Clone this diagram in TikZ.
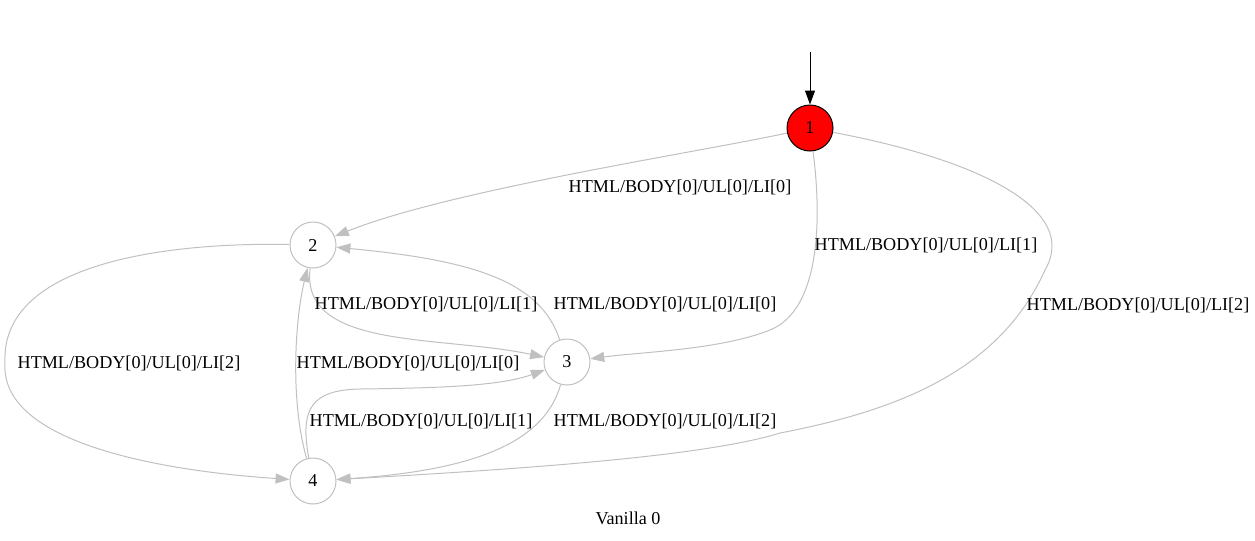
\documentclass[tikz,border=0pt]{standalone}
\usepackage{fontspec}
\setmainfont{Liberation Serif}
\usepackage{tikz}
\usepackage{xcolor}
\usetikzlibrary{arrows.meta}
\definecolor{edgegray}{HTML}{C0C0C0}
\tikzstyle{statenode} = [circle,draw=edgegray,line width=0.75pt,
  minimum size=34.5pt,inner sep=0pt]
\tikzstyle{startnode} = [statenode,draw=black,fill=red]
\tikzstyle{trans} = [draw=edgegray,line width=0.75pt,
  -{Triangle[length=10.5pt,width=7.5pt]}]
\tikzstyle{translabel} = [anchor=base,inner sep=0pt]

\begin{document}
\begin{tikzpicture}[x=0.75pt,y=-0.75pt,font=\fontsize{13.6}{16}\selectfont]
    \useasboundingbox (0,0) rectangle (1255,540);
    % states
    \node [startnode] (n1) at (810,128) {1};
    \node [statenode] (n2) at (313,245) {2};
    \node [statenode] (n3) at (567,362) {3};
    \node [statenode] (n4) at (313,481) {4};
    \coordinate (init) at (810,52);
    \draw [line width=0.75pt,-{Triangle[length=10.5pt,width=7.5pt]}] (init) -- (n1);
    % transitions
    \draw [trans] (n1) .. controls (700,152) and (450,190) .. (n2);
    \draw [trans] (n1) .. controls (822,220) and (820,310) .. (770,330)
      .. controls (720,350) and (640,352) .. (n3);
    \draw [trans] (n1) .. controls (980,160) and (1080,210) .. (1045,270)
      .. controls (1000,370) and (900,410) .. (780,433)
      .. controls (700,458) and (500,470) .. (n4);
    \draw [trans] (n2) .. controls (170,242) and (0,262) .. (5,363)
      .. controls (0,440) and (150,470) .. (n4);
    \draw [trans] (n2) .. controls (300,350) and (440,335) .. (n3);
    \draw [trans] (n3) .. controls (540,280) and (470,260) .. (n2);
    \draw [trans] (n3) .. controls (545,440) and (480,470) .. (n4);
    \draw [trans] (n4) .. controls (290,400) and (295,320) .. (n2);
    \draw [trans] (n4) .. controls (300,410) and (310,390) .. (360,389)
      .. controls (440,388) and (500,386) .. (n3);
    % labels
    \node [translabel] (l12) at (680,192) {HTML/BODY[0]/UL[0]/LI[0]};
    \node [translabel] (l13) at (926,250) {HTML/BODY[0]/UL[0]/LI[1]};
    \node [translabel] (l14) at (1138,310) {HTML/BODY[0]/UL[0]/LI[2]};
    \node [translabel] (l24) at (129,368) {HTML/BODY[0]/UL[0]/LI[2]};
    \node [translabel] (l23) at (426,309) {HTML/BODY[0]/UL[0]/LI[1]};
    \node [translabel] (l32) at (665,309) {HTML/BODY[0]/UL[0]/LI[0]};
    \node [translabel] (l42) at (408,368) {HTML/BODY[0]/UL[0]/LI[0]};
    \node [translabel] (l43) at (421,426) {HTML/BODY[0]/UL[0]/LI[1]};
    \node [translabel] (l34) at (665,426) {HTML/BODY[0]/UL[0]/LI[2]};
    \node [translabel] (caption) at (628,524) {Vanilla 0};
\end{tikzpicture}
\end{document}
